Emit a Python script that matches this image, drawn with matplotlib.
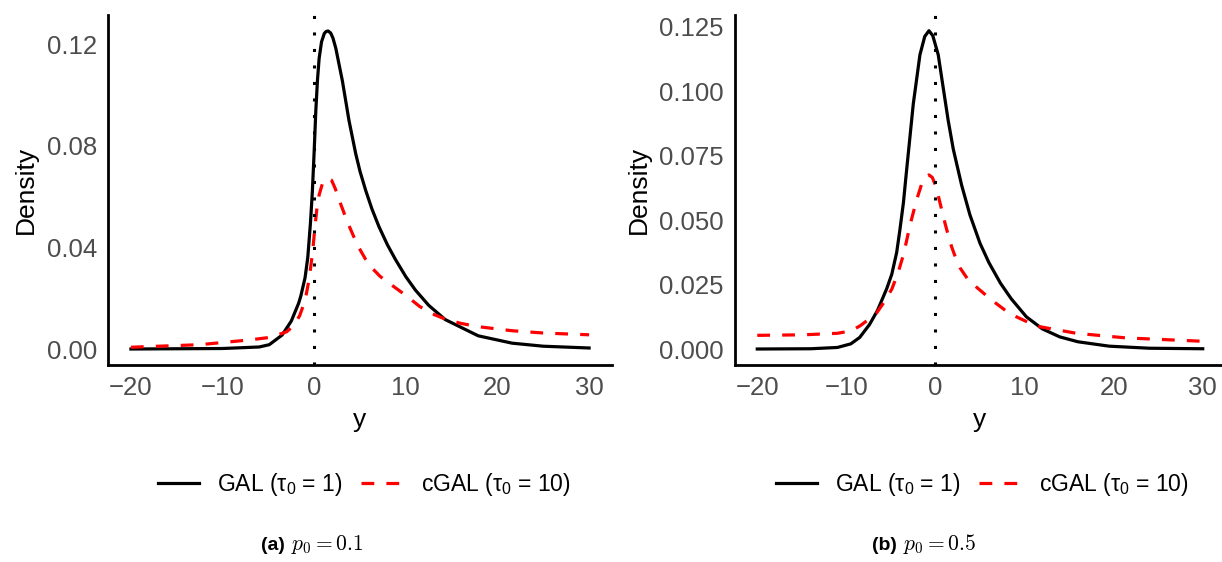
import numpy as np
import matplotlib
matplotlib.use("Agg")
import matplotlib.pyplot as plt

plt.rcParams['font.family'] = ['Liberation Sans', 'DejaVu Sans']

# panel (a): p0 = 0.1
xa_gal = [-20, -10, -6, -4.9, -3.5, -2.5, -1.7, -1.45, -1.0, -0.7, -0.4, -0.2, 0, 0.18,
          0.36, 0.54, 0.8, 1.1, 1.3, 1.52, 1.8, 2.05, 2.36, 3.08, 3.8, 4.53, 5.0, 5.62,
          6.3, 7.07, 8.0, 8.88, 10.0, 11.05, 12.5, 14.3, 17.9, 21.6, 25, 30]
ya_gal = [0.0, 0.0002, 0.0008, 0.0017, 0.0055, 0.011, 0.018, 0.021, 0.028, 0.036, 0.050,
          0.062, 0.078, 0.094, 0.106, 0.1145, 0.121, 0.1243, 0.1251, 0.1253, 0.1245, 0.1225,
          0.1185, 0.1056, 0.090, 0.077, 0.070, 0.0625, 0.0552, 0.0482, 0.041, 0.0352,
          0.0285, 0.0232, 0.0172, 0.0116, 0.0052, 0.0023, 0.0011, 0.0004]
xa_cgal = [-20, -12.5, -7, -5, -3.8, -3.0, -2.3, -1.6, -1.0, -0.54, -0.18, 0.11, 0.3,
           0.54, 0.9, 1.2, 1.52, 1.9, 2.3, 2.72, 3.3, 3.8, 4.35, 4.9, 5.6, 6.34, 7.2, 8.15,
           9.97, 11.5, 12.8, 14.3, 16, 17.9, 21.6, 25, 30]
ya_cgal = [0.0007, 0.0017, 0.0036, 0.0045, 0.0058, 0.0068, 0.009, 0.013, 0.019, 0.0277,
           0.038, 0.049, 0.0555, 0.0607, 0.0652, 0.0668, 0.0673, 0.0665, 0.0632, 0.0588,
           0.0532, 0.0486, 0.044, 0.0398, 0.0354, 0.0318, 0.0286, 0.026, 0.0212, 0.0168,
           0.014, 0.0118, 0.0101, 0.0088, 0.0072, 0.0063, 0.0056]

# panel (b): p0 = 0.5
xb_gal = [-20, -14, -11, -9.5, -8.5, -7.4, -6.5, -5.47, -4.9, -4.35, -4.0, -3.6, -3.3,
          -3.05, -2.49, -1.74, -1.2, -0.73, -0.3, 0.31, 0.87, 1.43, 2.0, 2.94, 3.87, 5.0,
          6.0, 7.3, 8.5, 10.2, 12, 13.95, 16, 19.5, 24, 30]
yb_gal = [0.0, 0.0001, 0.0006, 0.002, 0.0045, 0.0095, 0.015, 0.0234, 0.029, 0.0375, 0.046,
          0.0566, 0.0672, 0.0758, 0.095, 0.1141, 0.1212, 0.1234, 0.1215, 0.1141, 0.1013,
          0.0886, 0.0775, 0.0635, 0.052, 0.041, 0.0335, 0.0255, 0.0195, 0.0125, 0.0078,
          0.0047, 0.0028, 0.0011, 0.0003, 0.0001]
xb_cgal = [-20, -14.8, -11, -9.5, -8.45, -7.5, -6.6, -5.8, -4.9, -4.2, -3.6, -3.3, -2.86,
           -2.1, -1.5, -1.1, -0.73, -0.35, 0.0, 0.31, 0.7, 1.07, 1.5, 1.8, 2.3, 2.75, 3.6,
           4.6, 6.3, 8.34, 11.3, 15.8, 21.4, 30]
yb_cgal = [0.0053, 0.0055, 0.0061, 0.007, 0.009, 0.0115, 0.014, 0.018, 0.0232, 0.0295,
           0.0365, 0.041, 0.048, 0.058, 0.0645, 0.0668, 0.0675, 0.0665, 0.0635, 0.0595,
           0.054, 0.0488, 0.0433, 0.0398, 0.035, 0.0315, 0.0272, 0.024, 0.019, 0.0137,
           0.0089, 0.0061, 0.0043, 0.003]

labels = [r'GAL (τ$\mathregular{_0}$ = 1)', r'cGAL (τ$\mathregular{_0}$ = 10)']
grey = '#4D4D4D'

W, H = 1222, 562
fig = plt.figure(figsize=(W / 100, H / 100), dpi=100)

def px(x0, y0, x1, y1):
    return [x0 / W, 1 - y1 / H, (x1 - x0) / W, (y1 - y0) / H]

panels = [
    (px(108, 15, 612, 365), xa_gal, ya_gal, xa_cgal, ya_cgal, (-0.0063, 0.1316),
     [0, 0.04, 0.08, 0.12], ['0.00', '0.04', '0.08', '0.12'], 364, 285, '0.1'),
    (px(735, 15, 1225, 365), xb_gal, yb_gal, xb_cgal, yb_cgal, (-0.0062, 0.1295),
     [0, 0.025, 0.05, 0.075, 0.1, 0.125], ['0.000', '0.025', '0.050', '0.075', '0.100', '0.125'],
     982, 897, '0.5'),
]

for i, (rect, xg, yg, xc, yc, ylim, yt, ytl, legx, capx, p0) in enumerate(panels):
    ax = fig.add_axes(rect)
    l1, = ax.plot(xg, yg, color='black', lw=2.3, label=labels[0])
    l2, = ax.plot(xc, yc, color='red', lw=2.3, ls=(0, (4, 3.8)), label=labels[1])
    ax.axvline(0, color='black', lw=2.2, ls=(0, (1, 4.4)))
    ax.set_xlim(-22.5, 32.5)
    ax.set_ylim(*ylim)
    ax.set_xticks([-20, -10, 0, 10, 20, 30])
    ax.set_xticklabels(['\u221220', '\u221210', '0', '10', '20', '30'])
    ax.set_yticks(yt)
    ax.set_yticklabels(ytl)
    ax.tick_params(length=0, labelsize=18.5, labelcolor=grey, pad=8)
    for s in ['top', 'right']:
        ax.spines[s].set_visible(False)
    for s in ['left', 'bottom']:
        ax.spines[s].set_linewidth(2.0)
    ax.set_xlabel('y', fontsize=19, labelpad=6)
    ax.set_ylabel('Density', fontsize=19, labelpad=6)
    ax.legend(handles=[l1, l2], loc='center', bbox_to_anchor=(legx / W, 1 - 485 / H),
              bbox_transform=fig.transFigure, ncol=2, frameon=False, fontsize=16.5,
              handlelength=1.8, handletextpad=0.8, columnspacing=0.8)
    fig.text(capx / W, 1 - 550 / H, '(%s)' % 'ab'[i], ha='right', va='baseline',
             fontsize=14, fontweight='bold')
    fig.text((capx + 6) / W, 1 - 550 / H, r'$p_0 = %s$' % p0, ha='left', va='baseline',
             fontsize=15.5, math_fontfamily='cm')

fig.savefig('out.png', dpi=100)
